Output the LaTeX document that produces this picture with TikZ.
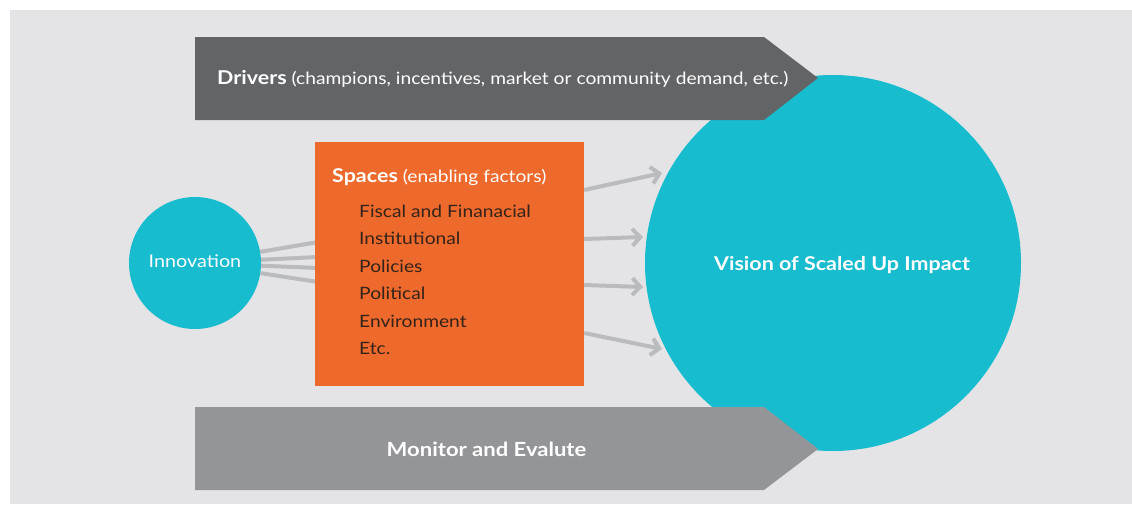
\documentclass[tikz,border=0pt]{standalone}
\usepackage{fontspec}
\setmainfont{Lato}[FakeStretch=1.13]
\usetikzlibrary{positioning,arrows.meta}
\definecolor{bggray}{HTML}{E4E4E6}
\definecolor{drivergray}{HTML}{636466}
\definecolor{monitorgray}{HTML}{949598}
\definecolor{tealblue}{HTML}{17BCCF}
\definecolor{spaceorange}{HTML}{EE6A2C}
\definecolor{linkgray}{HTML}{B9BBBE}
\definecolor{itemdark}{HTML}{33231A}
\pgfdeclarelayer{back}
\pgfdeclarelayer{links}
\pgfsetlayers{back,links,main}
\tikzset{
  teal disc/.style={circle, fill=tealblue, inner sep=0pt, text=white},
  space box/.style={rectangle, fill=spaceorange, inner sep=0pt},
  link/.style={draw=linkgray, line width=4pt},
  flow/.style={link, -{Straight Barb[length=8pt, width=17pt]}},
  white text/.style={text=white, inner sep=0pt},
  item text/.style={text=itemdark, inner sep=0pt, font=\fontsize{17}{20}\selectfont}
}
\begin{document}
\begin{tikzpicture}[x=1pt, y=-1pt]
  \useasboundingbox (0,0) rectangle (1132,506);
  \begin{pgfonlayer}{back}
    \fill [bggray] (10,10) rectangle (1132,504);
  \end{pgfonlayer}

  \node [teal disc, minimum size=132pt] (innovation) at (195,263) {};
  \node [white text, anchor=base, font=\fontsize{17.5}{20}\selectfont] (innovation-label) at (195,267) {Innovation};
  \node [space box, minimum width=269pt, minimum height=244pt] (spaces) at (449.5,264) {};
  \node [teal disc, minimum size=376pt] (vision) at (833,263) {};
  \node [white text, anchor=base, font=\bfseries\fontsize{19}{22}\selectfont] (vision-label) at (842,270) {Vision of Scaled Up Impact};

  \node [white text, anchor=base west, font=\fontsize{17}{20}\selectfont] (spaces-title) at (332,182)
    {{\bfseries\fontsize{19}{22}\selectfont Spaces} (enabling factors)};
  \foreach \t [count=\i] in {Fiscal and Finanacial, Institutional, Policies, Political, Environment, Etc.}
    \node [item text, anchor=base west] (item-\i) at (359, 189.5+27.5*\i) {\t};

  \fill [drivergray] (195,37) -- (764,37) -- (818,78) -- (764,120) -- (195,120) -- cycle;
  \node [white text, anchor=base west, font=\fontsize{17}{20}\selectfont] (drivers) at (217,84)
    {{\bfseries\fontsize{19}{22}\selectfont Drivers} (champions, incentives, market or community demand, etc.)};

  \fill [monitorgray] (195,407) -- (764,407) -- (818,449) -- (764,490) -- (195,490) -- cycle;
  \node [white text, anchor=base, font=\bfseries\fontsize{19.5}{22}\selectfont] (monitor) at (486.5,456) {Monitor and Evalute};

  \foreach \y [count=\i] in {242, 257, 268, 282}
    \coordinate (in-\i) at (318,\y);
  \begin{pgfonlayer}{links}
    \foreach \i in {1,...,4}
      \draw [link] (innovation) -- (in-\i);
  \end{pgfonlayer}

  \foreach \ys/\xe/\ye [count=\i] in {190/662/173, 239/643/237, 285/643/287, 333/662/349} {
    \coordinate (tip-\i) at (\xe,\ye);
    \draw [flow] (spaces.east |- 0,\ys) -- (tip-\i);
  }
\end{tikzpicture}
\end{document}
